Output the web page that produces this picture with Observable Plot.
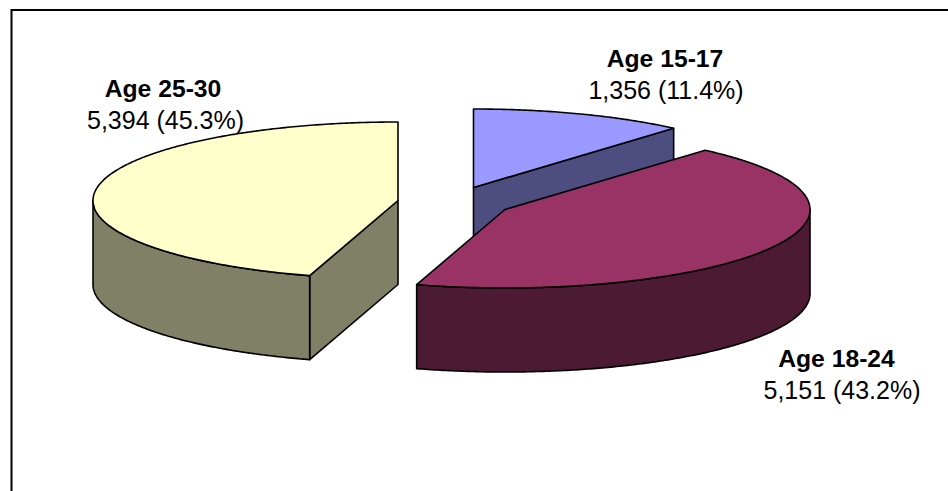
<!DOCTYPE html>
<html>
<head>
<meta charset="utf-8">
<script src="https://cdn.jsdelivr.net/npm/d3@7"></script>
<script src="https://cdn.jsdelivr.net/npm/@observablehq/plot@0.6"></script>
<style>
html,body{margin:0;padding:0;background:#fff;overflow:hidden}
svg{display:block}
</style>
</head>
<body>
<div id="chart"></div>
<script>
const ages = ["Age 15-17", "Age 18-24", "Age 25-30"];
const counts = [1356, 5151, 5394];
const percents = ["11.4%", "43.2%", "45.3%"];
const topColors = ["#9999FF", "#993366", "#FFFFCC"];
const sideColors = ["#4D4D80", "#4D1A33", "#808066"];

// layout of the exploded 3-D pie
const centersX = [473, 504.5, 397.5];
const centersY = [187, 209, 200];
const rx = 305, ry = 78.5, depth = 84;
const nameX = [664.5, 836, 162.5];
const valueX = [665.5, 841.5, 165];
const nameY = [66, 366, 96];
const lineGap = 32;

const total = d3.sum(counts);
let acc = 0;
const slices = ages.map((age, i) => {
  const start = acc / total * 2 * Math.PI;
  acc += counts[i];
  return {i, age, start, end: acc / total * 2 * Math.PI};
});
const rim = (s, a, dz = 0) => ({
  x: centersX[s.i] + rx * Math.sin(a),
  y: centersY[s.i] - ry * Math.cos(a) + dz
});
const centre = (s, dz = 0) => ({x: centersX[s.i], y: centersY[s.i] + dz});
const arc = (s, a0, a1, dz = 0) => {
  const n = Math.max(2, Math.ceil(Math.abs(a1 - a0) / 0.01));
  return d3.range(n + 1).map(k => rim(s, a0 + (a1 - a0) * k / n, dz));
};
const clamp = (lo, hi, v) => Math.max(lo, Math.min(hi, v));

const faces = [];
function face(s, kind, pts, fill) {
  const id = `${s.i}-${kind}`;
  [...pts, pts[0]].forEach(p => faces.push({id, fill, x: p.x, y: p.y}));
}
for (const s of slices) {
  const side = sideColors[s.i];
  // cut face on the trailing edge, when it looks toward the viewer
  if (Math.sin(s.end) > 0) face(s, "cutEnd", [centre(s), rim(s, s.end), rim(s, s.end, depth), centre(s, depth)], side);
  // cut face on the leading edge, when it looks toward the viewer
  if (s.start > Math.PI) face(s, "cutStart", [centre(s), rim(s, s.start), rim(s, s.start, depth), centre(s, depth)], side);
  // outer wall: front half of the rim
  const a0 = clamp(Math.PI / 2, 3 * Math.PI / 2, s.start);
  const a1 = clamp(Math.PI / 2, 3 * Math.PI / 2, s.end);
  if (a1 > a0) face(s, "wall", [...arc(s, a0, a1), ...arc(s, a1, a0, depth)], side);
  // top
  face(s, "top", [centre(s), ...arc(s, s.start, s.end)], topColors[s.i]);
}

const nameLabels = slices.map(s => ({x: nameX[s.i], y: nameY[s.i], t: s.age}));
const valueLabels = slices.map(s => ({x: valueX[s.i], y: nameY[s.i] + lineGap, t: `${d3.format(",")(counts[s.i])} (${percents[s.i]})`}));

const plot = Plot.plot({
  width: 948,
  height: 491,
  marginLeft: 11,
  marginRight: -10,
  marginTop: 9.5,
  marginBottom: -10,
  x: {domain: [11, 958], axis: null},
  y: {domain: [9.5, 501], reverse: true, axis: null},
  style: {fontFamily: "'Liberation Sans', Arial, sans-serif", background: "#fff", overflow: "hidden"},
  marks: [
    Plot.frame({stroke: "#000", strokeWidth: 2}),
    Plot.line(faces, {x: "x", y: "y", z: "id", fill: "fill", stroke: "#000", strokeWidth: 1.6, curve: "linear", strokeLinejoin: "round"}),
    Plot.text(nameLabels, {x: "x", y: "y", text: "t", fontSize: 24.7, fontWeight: "bold", fill: "#000", lineAnchor: "bottom"}),
    Plot.text(valueLabels, {x: "x", y: "y", text: "t", fontSize: 25, fill: "#000", lineAnchor: "bottom"})
  ]
});
document.getElementById("chart").append(plot);
</script>
</body>
</html>
